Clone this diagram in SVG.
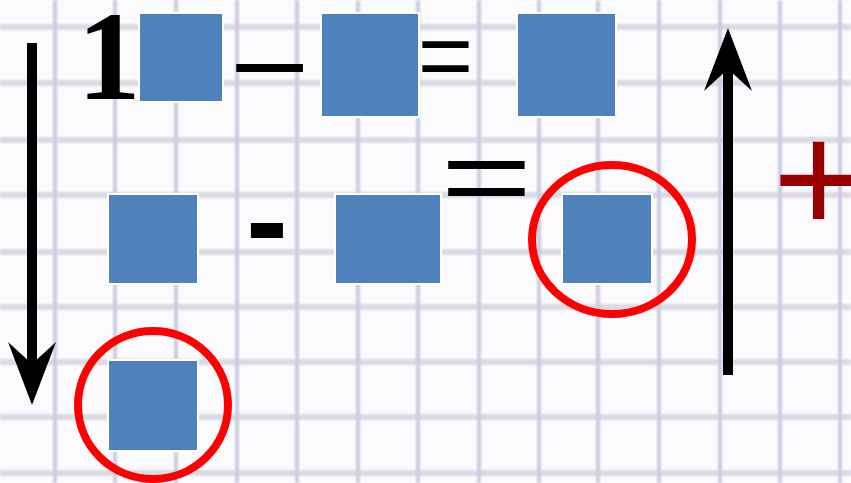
<svg xmlns="http://www.w3.org/2000/svg" width="851" height="483" viewBox="0 0 851 483">
<defs>
<style>
.sq{fill:#4F81BD;stroke:#FFFFFF;stroke-width:2}
.ring{fill:none;stroke:#FF0000;stroke-width:8}
.vg{stroke:#c9cce0;stroke-width:4}
.hg{stroke:#d9dae2;stroke-width:6}
.sym{font-family:"Liberation Sans",Arial,sans-serif;fill:#000000;text-anchor:middle}
.arrow{stroke:#000000;stroke-width:10;fill:none}
</style>
<filter id="soft" x="-5%" y="-5%" width="110%" height="110%"><feGaussianBlur stdDeviation="1.3"/></filter>
<marker id="head" markerUnits="userSpaceOnUse" markerWidth="70" markerHeight="60" refX="22" refY="30" orient="auto" viewBox="0 0 70 60">
<path d="M0,6 L63,30 L0,54 L22,30 Z" fill="#000000"/>
</marker>
</defs>
<rect x="0" y="0" width="851" height="483" fill="#fbfbfe"/>
<g id="grid" filter="url(#soft)">
<g class="hg">
<line x1="0" y1="27" x2="851" y2="27"/><line x1="0" y1="83" x2="851" y2="83"/><line x1="0" y1="140" x2="851" y2="140"/>
<line x1="0" y1="195" x2="851" y2="195"/><line x1="0" y1="252" x2="851" y2="252"/><line x1="0" y1="307" x2="851" y2="307"/>
<line x1="0" y1="362" x2="851" y2="362"/><line x1="0" y1="417" x2="851" y2="417"/><line x1="0" y1="473" x2="851" y2="473"/>
</g>
<g class="vg">
<line x1="55" y1="0" x2="55" y2="483"/><line x1="115" y1="0" x2="115" y2="483"/><line x1="176" y1="0" x2="176" y2="483"/>
<line x1="237" y1="0" x2="237" y2="483"/><line x1="297" y1="0" x2="297" y2="483"/><line x1="358" y1="0" x2="358" y2="483"/>
<line x1="418" y1="0" x2="418" y2="483"/><line x1="479" y1="0" x2="479" y2="483"/><line x1="539" y1="0" x2="539" y2="483"/>
<line x1="598" y1="0" x2="598" y2="483"/><line x1="659" y1="0" x2="659" y2="483"/><line x1="720" y1="0" x2="720" y2="483"/>
<line x1="780" y1="0" x2="780" y2="483"/><line x1="840" y1="0" x2="840" y2="483"/>
</g>
</g>
<g id="connectors">
<line class="arrow" x1="32" y1="43" x2="32" y2="364" marker-end="url(#head)"/>
<line class="arrow" x1="728" y1="375" x2="728" y2="69" marker-end="url(#head)"/>
</g>
<g id="box-a"><rect class="sq" x="139" y="13" width="84" height="89"/></g>
<g id="box-b"><rect class="sq" x="321" y="13" width="98" height="104"/></g>
<g id="box-c"><rect class="sq" x="517" y="13" width="99" height="104"/></g>
<g id="box-d"><rect class="sq" x="108" y="194" width="90" height="90"/></g>
<g id="box-e"><rect class="sq" x="335" y="194" width="106" height="90"/></g>
<g id="box-f"><rect class="sq" x="562" y="194" width="90" height="90"/></g>
<g id="ring-f"><ellipse class="ring" cx="612" cy="239.5" rx="80" ry="74.5"/></g>
<g id="box-g"><rect class="sq" x="108" y="360" width="90" height="91"/></g>
<g id="ring-g"><ellipse class="ring" cx="153" cy="405" rx="75" ry="74"/></g>
<g id="digit-1"><text x="109" y="99" font-family="'Liberation Serif','Times New Roman',serif" font-weight="bold" font-size="127" text-anchor="middle" fill="#000000">1</text></g>
<g id="minus-1"><text class="sym" x="269.5" y="98.6" font-size="120">–</text></g>
<g id="equals-1"><text class="sym" x="445.5" y="88" font-size="95">=</text></g>
<g id="minus-2"><text class="sym" x="267" y="263" font-size="126" font-weight="bold">-</text></g>
<g id="equals-2"><text class="sym" transform="translate(486.5,214) scale(1.43,1)" x="0" y="0" font-size="110">=</text></g>
<g id="plus"><text x="818.5" y="232.5" font-family="'Liberation Sans',Arial,sans-serif" font-size="157" text-anchor="middle" fill="#990000">+</text></g>
</svg>
